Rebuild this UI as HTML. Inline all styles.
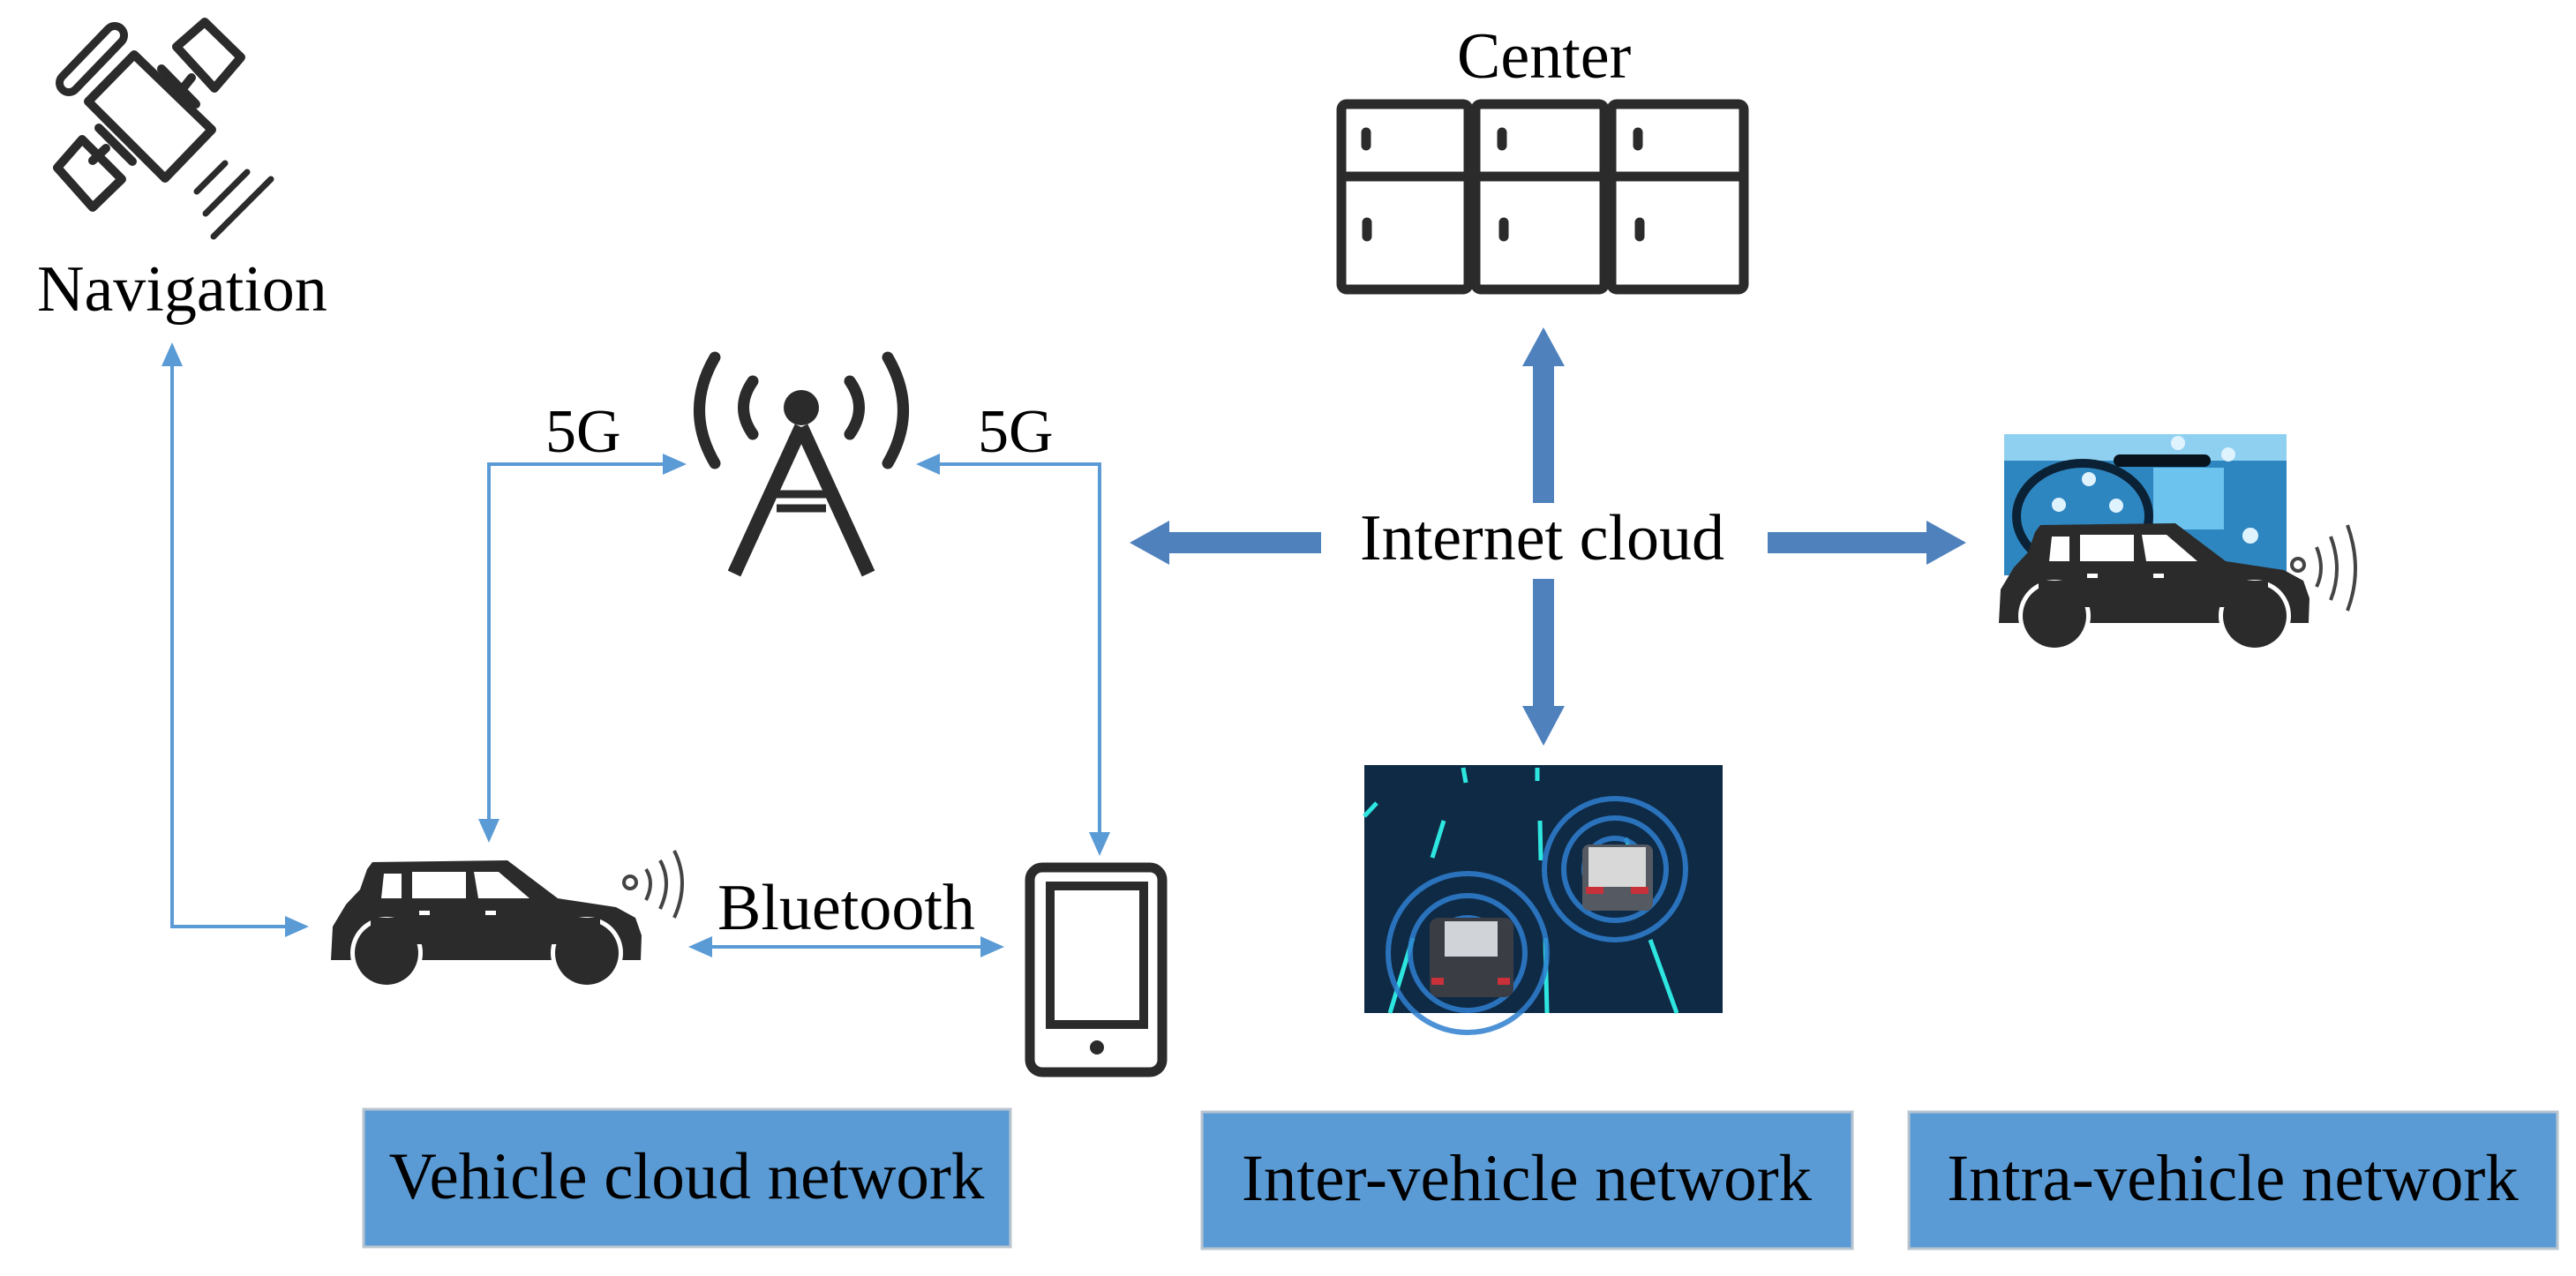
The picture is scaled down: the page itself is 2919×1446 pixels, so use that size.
<!DOCTYPE html>
<html><head><meta charset="utf-8"><style>
html,body{margin:0;padding:0;background:#fff}
svg{display:block}
text{font-family:"Liberation Serif",serif;fill:#000}
</style></head><body>
<svg width="2919" height="1446" viewBox="0 0 2919 1446" xmlns="http://www.w3.org/2000/svg">
<defs>
<g id="car">
<path d="M375,1088 L377,1050 L392,1025 L408,1008 L416,985 L422,977 L575,975 L632,1018 L698,1028 L720,1040 L727,1060 L726,1088 Z" fill="#2b2b2b"/>
<path d="M435,990 L455,990 L455,1018 L432,1018 Z M467,988 L528,988 L528,1018 L467,1018 Z M537,988 L565,988 L600,1018 L542,1018 Z" fill="#fff"/>
<circle cx="438" cy="1080" r="41" fill="#fff"/><circle cx="438" cy="1080" r="36" fill="#2b2b2b"/>
<circle cx="665" cy="1080" r="41" fill="#fff"/><circle cx="665" cy="1080" r="36" fill="#2b2b2b"/>
<rect x="420" y="1040" width="260" height="30" fill="#2b2b2b"/>
<rect x="475" y="1032" width="12" height="5" fill="#fff"/><rect x="550" y="1032" width="12" height="5" fill="#fff"/>
</g>
</defs>

<!-- Satellite -->
<g fill="none" stroke="#2b2b2b" stroke-width="10" stroke-linejoin="round" stroke-linecap="round">
<path d="M152,62 L240,147 L187,202 L100,115 Z"/>
<path d="M78,94 L130,40" stroke-width="30"/>
<path d="M78,94 L130,40" stroke="#fff" stroke-width="12"/>
<path d="M200,53 L232,25 L273,65 L243,100 Z"/>
<path d="M65,190 L93,158 L138,203 L105,235 Z"/>
<path d="M183,78 L222,118 M205,103 L217,88 M112,145 L150,183 M120,168 L105,182"/>
<path d="M223,217 L255,185 M233,242 L280,195 M242,268 L307,203" stroke-width="7"/>
</g>
<text x="42" y="352" font-size="74">Navigation</text>

<!-- thin connectors -->
<g fill="none" stroke="#5b9bd5" stroke-width="4">
<path d="M195,410 L195,1050 L330,1050"/>
<path d="M758,526 L554,526 L554,935"/>
<path d="M1060,526 L1246,526 L1246,950"/>
<path d="M800,1073 L1118,1073"/>
</g>
<g fill="#5b9bd5">
<path d="M195,388 L183,415 L207,415 Z"/>
<path d="M350,1050 L323,1038 L323,1062 Z"/>
<path d="M778,526 L751,514 L751,538 Z"/>
<path d="M554,955 L542,928 L566,928 Z"/>
<path d="M1038,526 L1065,514 L1065,538 Z"/>
<path d="M1246,970 L1234,943 L1258,943 Z"/>
<path d="M780,1073 L807,1061 L807,1085 Z"/>
<path d="M1138,1073 L1111,1061 L1111,1085 Z"/>
</g>
<text x="618" y="512" font-size="70">5G</text>
<text x="1108" y="512" font-size="70">5G</text>
<text x="813" y="1053" font-size="74">Bluetooth</text>

<!-- Tower -->
<g fill="none" stroke="#2b2b2b" stroke-linecap="round">
<path d="M908,484 L832,650 M908,484 L984,650" stroke-width="16" stroke-linecap="butt"/>
<path d="M872,560 L944,560 M880,576 L936,576" stroke-width="9" stroke-linecap="butt"/>
<path d="M853,432 Q832,462 853,492" stroke-width="13"/>
<path d="M963,432 Q984,462 963,492" stroke-width="13"/>
<path d="M810,405 Q775,465 810,525" stroke-width="13"/>
<path d="M1006,405 Q1041,465 1006,525" stroke-width="13"/>
</g>
<circle cx="908" cy="462" r="20" fill="#2b2b2b"/>

<!-- Car left -->
<use href="#car"/>
<g fill="none" stroke="#444" stroke-width="4">
<circle cx="714" cy="1000" r="7"/>
<path d="M732,985 Q742,1000 732,1020"/>
<path d="M748,975 Q762,1000 748,1030"/>
<path d="M764,964 Q782,1000 764,1040"/>
</g>

<!-- Tablet -->
<rect x="1167" y="983" width="150" height="232" rx="14" fill="none" stroke="#2b2b2b" stroke-width="11"/>
<rect x="1190" y="1004" width="106" height="157" fill="none" stroke="#2b2b2b" stroke-width="10"/>
<circle cx="1243" cy="1187" r="8" fill="#2b2b2b"/>

<!-- Center cabinet -->
<text x="1651" y="88" font-size="74">Center</text>
<g fill="none" stroke="#2b2b2b" stroke-width="11" stroke-linejoin="round">
<rect x="1520" y="118" width="144" height="210" rx="6"/>
<rect x="1672" y="118" width="146" height="210" rx="6"/>
<rect x="1826" y="118" width="150" height="210" rx="6"/>
<path d="M1520,200 L1976,200"/>
</g>
<g stroke="#2b2b2b" stroke-width="11" stroke-linecap="round">
<path d="M1548,150 L1548,165 M1702,150 L1702,165 M1856,150 L1856,165 M1549,252 L1549,268 M1704,252 L1704,268 M1858,252 L1858,268"/>
</g>

<!-- big arrows -->
<g fill="#4f81bd">
<path d="M1737,570 L1761,570 L1761,415 L1773,415 L1749,371 L1725,415 L1737,415 Z"/>
<path d="M1737,656 L1761,656 L1761,800 L1773,800 L1749,845 L1725,800 L1737,800 Z"/>
<path d="M1497,603 L1497,627 L1325,627 L1325,640 L1280,615 L1325,590 L1325,603 Z"/>
<path d="M2003,603 L2003,627 L2183,627 L2183,640 L2228,615 L2183,590 L2183,603 Z"/>
</g>
<text x="1541" y="634" font-size="74">Internet cloud</text>

<!-- Inter-vehicle image -->
<rect x="1546" y="867" width="406" height="281" fill="#0f2a45"/>
<g stroke="#2ee6e0" stroke-width="5">
<path d="M1575,1148 L1601,1063 M1623,972 L1636,930 M1753,1148 L1751,1063 M1746,975 L1745,930 M1900,1148 L1870,1065 M1842,950 L1856,980 M1661,887 L1658,870 M1742,885 L1742,870 M1546,925 L1560,910"/>
</g>
<g fill="none" stroke="#2f7fd0" stroke-width="6" opacity="0.85">
<circle cx="1663" cy="1080" r="40"/><circle cx="1663" cy="1080" r="65"/><circle cx="1663" cy="1080" r="90"/>
<circle cx="1830" cy="985" r="35"/><circle cx="1830" cy="985" r="58"/><circle cx="1830" cy="985" r="80"/>
</g>
<rect x="1620" y="1040" width="95" height="90" rx="10" fill="#3a3d44"/>
<rect x="1637" y="1044" width="60" height="40" fill="#d0d3d8"/>
<rect x="1622" y="1108" width="14" height="8" fill="#c8303a"/><rect x="1697" y="1108" width="14" height="8" fill="#c8303a"/>
<rect x="1793" y="957" width="80" height="75" rx="8" fill="#555a62"/>
<rect x="1800" y="960" width="65" height="45" fill="#d8d8d8"/>
<rect x="1797" y="1005" width="20" height="8" fill="#c8303a"/><rect x="1848" y="1005" width="20" height="8" fill="#c8303a"/>

<!-- Intra-vehicle image -->
<rect x="2271" y="492" width="320" height="160" fill="#2e86c0"/>
<rect x="2271" y="492" width="320" height="30" fill="#8fd0f0"/>
<ellipse cx="2360" cy="585" rx="75" ry="60" fill="none" stroke="#0b2236" stroke-width="10"/>
<rect x="2440" y="530" width="80" height="70" fill="#6cc3ee"/>
<rect x="2395" y="515" width="110" height="14" rx="7" fill="#08131e"/>
<g fill="#dff3ff"><circle cx="2468" cy="502" r="8"/><circle cx="2525" cy="515" r="8"/><circle cx="2367" cy="543" r="8"/><circle cx="2333" cy="572" r="8"/><circle cx="2398" cy="573" r="8"/><circle cx="2550" cy="607" r="9"/></g>
<use href="#car" transform="translate(1890,-382)"/>
<g fill="none" stroke="#444" stroke-width="4">
<circle cx="2604" cy="640" r="7"/>
<path d="M2625,620 Q2635,645 2625,665"/>
<path d="M2641,608 Q2655,645 2641,680"/>
<path d="M2660,595 Q2678,645 2660,692"/>
</g>

<!-- Bottom boxes -->
<g fill="#5b9bd5" stroke="#b8c4d0" stroke-width="3">
<rect x="412" y="1257" width="733" height="156"/>
<rect x="1362" y="1260" width="737" height="155"/>
<rect x="2163" y="1260" width="735" height="155"/>
</g>
<text x="778" y="1358" font-size="75" text-anchor="middle">Vehicle cloud network</text>
<text x="1730" y="1360" font-size="75" text-anchor="middle">Inter-vehicle network</text>
<text x="2530" y="1360" font-size="75" text-anchor="middle">Intra-vehicle network</text>
</svg>
</body></html>
